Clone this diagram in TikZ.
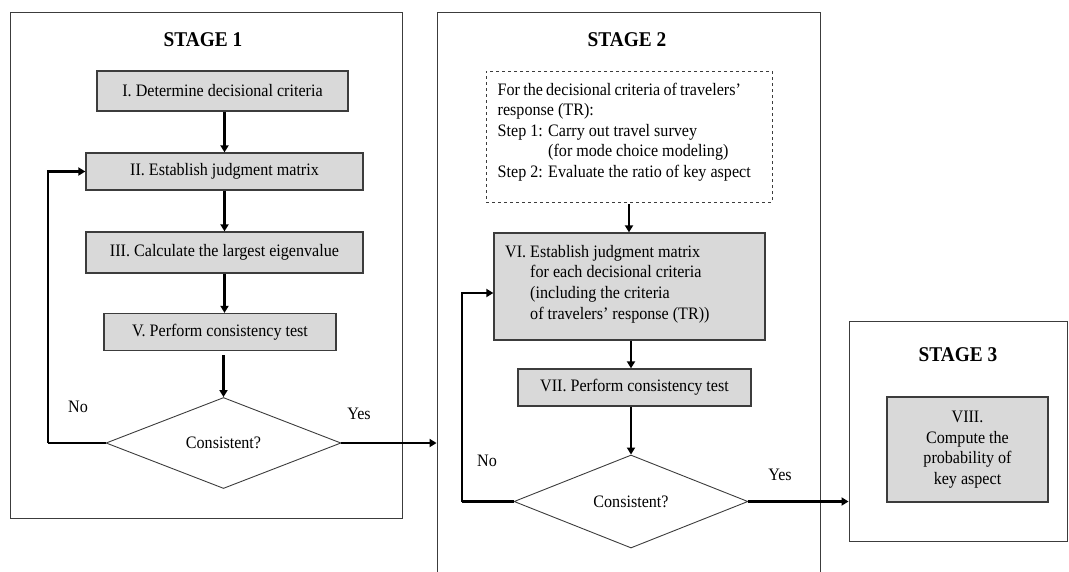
\documentclass[tikz,border=0pt]{standalone}
\usepackage{fontspec}
\setmainfont{Liberation Serif}[FakeStretch=0.92]
\usetikzlibrary{shapes.geometric,arrows.meta}
\definecolor{boxgray}{RGB}{217,217,217}
\definecolor{linegray}{RGB}{60,60,60}
\newcommand\bodyfs{\fontsize{17.5}{20.6}\selectfont}
\newcommand\titlefs{\fontsize{21}{24}\selectfont\bfseries}
\begin{document}
\begin{tikzpicture}[x=1pt,y=-1pt,
  frame/.style={draw=linegray,line width=0.9pt,inner sep=0pt},
  box/.style={draw=linegray,line width=1.3pt,fill=boxgray,inner sep=0pt,font=\bodyfs},
  dbox/.style={draw=linegray,line width=0.9pt,dashed,inner sep=0pt},
  dec/.style={diamond,draw=linegray,line width=0.9pt,inner sep=0pt,font=\bodyfs},
  ttl/.style={font=\titlefs,inner sep=0pt},
  lbl/.style={font=\bodyfs,inner sep=0pt},
  txt/.style={font=\bodyfs,inner sep=0pt,align=left,anchor=north west},
  arr/.style={line width=2.2pt,-{Triangle[length=7pt,width=8pt]}},
  ln/.style={line width=2.2pt}
]
\useasboundingbox (0,0) rectangle (1069,571);
% frames
\node[frame,minimum width=392pt,minimum height=506pt] (s1) at (206,265) {};
\node[frame,minimum width=383pt,minimum height=568pt] (s2) at (628.5,296) {};
\node[frame,minimum width=218pt,minimum height=220pt] (s3) at (958,431) {};
% titles
\node[ttl] (t1) at (203,40) {STAGE 1};
\node[ttl] (t2) at (627,40) {STAGE 2};
\node[ttl] (t3) at (958,355) {STAGE 3};
% stage 1
\node[box,minimum width=251pt,minimum height=40pt] (b1) at (222.5,91) {I. Determine decisional criteria};
\node[box,minimum width=277pt,minimum height=37pt] (b2) at (224.5,171.5) {II. Establish judgment matrix};
\node[box,minimum width=277pt,minimum height=41pt] (b3) at (224.5,252.5) {III. Calculate the largest eigenvalue};
\node[box,minimum width=232pt,minimum height=37pt] (b5) at (220,332) {V. Perform consistency test};
\node[dec,minimum width=235pt,minimum height=91pt] (d1) at (223.5,443) {Consistent?};
\coordinate (n1) at (48,443);
\node[lbl] (no1) at (78,407) {No};
\node[lbl] (yes1) at (359,414) {Yes};
\draw[arr] (b1.south -| b2.north) -- (b2.north);
\draw[arr] (b2.south) -- (b3.north);
\draw[arr] (b3.south) -- (b3.south |- b5.north);
\draw[arr] ([yshift=-4pt]b5.south -| d1.north) -- (d1.north);
\draw[ln] (d1.west) -- (n1);
\draw[arr] (n1) |- (b2.west);
\draw[arr] (d1.east) -- (d1.east -| s2.west);
% stage 2
\node[dbox,minimum width=286pt,minimum height=131pt] (pre) at (629,136.5) {};
\node[txt] (pretext) at (497.5,82.5)
 {\spaceskip=0.8\fontdimen2\font
  For the decisional criteria of travelers’\\
  response (TR):\\
  Step 1: Carry out travel survey\\
  \phantom{Step 1: }(for mode choice modeling)\\
  Step 2: Evaluate the ratio of key aspect};
\node[box,minimum width=271pt,minimum height=107pt] (b6) at (629.5,286.5) {};
\node[txt] (b6text) at (505,245)
 {VI. Establish judgment matrix\\
  \phantom{VI. }for each decisional criteria\\
  \phantom{VI. }(including the criteria\\
  \phantom{VI. }of travelers’ response (TR))};
\node[box,minimum width=233pt,minimum height=37pt] (b7) at (634.5,387.5) {VII. Perform consistency test};
\node[dec,minimum width=234pt,minimum height=93pt] (d2) at (631,501.5) {Consistent?};
\coordinate (n2) at (462,501.5);
\node[lbl] (no2) at (487,461) {No};
\node[lbl] (yes2) at (780,475) {Yes};
\draw[arr] ([yshift=-2pt]pre.south) -- (pre.south |- b6.north);
\draw[arr] (b6.south -| d2.north) -- (b7.north -| d2.north);
\draw[arr] (b7.south -| d2.north) -- (d2.north);
\draw[ln] (d2.west) -- (n2);
\draw[arr] (n2) |- ([yshift=-6.5pt]b6.west);
\draw[arr] (d2.east) -- (d2.east -| s3.west);
% stage 3
\node[box,minimum width=161pt,minimum height=105pt,align=center] (b8) at (967.5,449.5)
 {VIII.\\Compute the\\probability of\\key aspect};
\end{tikzpicture}
\end{document}
